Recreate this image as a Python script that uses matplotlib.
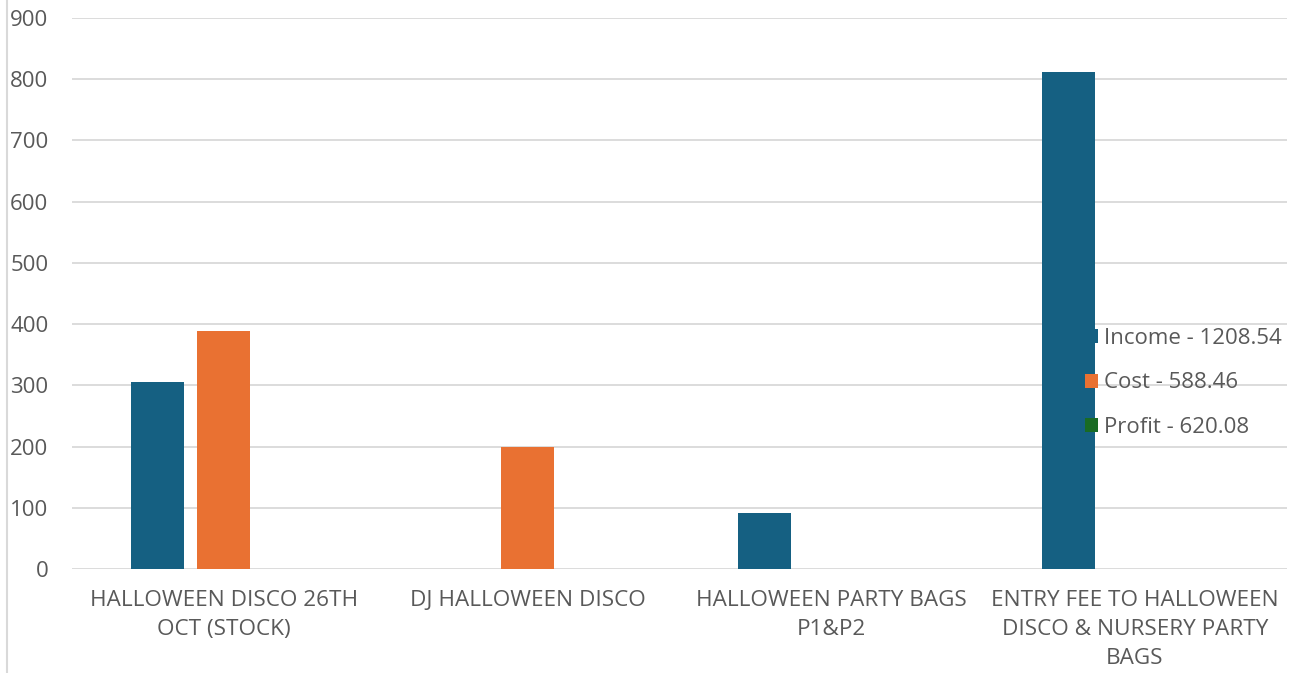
import matplotlib.pyplot as plt
import numpy as np

categories = ["HALLOWEEN DISCO 26TH\nOCT (STOCK)", "DJ HALLOWEEN DISCO",
              "HALLOWEEN PARTY BAGS\nP1&P2",
              "ENTRY FEE TO HALLOWEEN\nDISCO & NURSERY PARTY\nBAGS"]
income = [306.04, 0, 91.5, 811]
cost = [388.46, 200, 0, 0]
profit = [0, 0, 0, 0]
series_names = ["Income - 1208.54", "Cost - 588.46", "Profit - 620.08"]
colors = ["#156082", "#E97132", "#196B24"]

plt.rcParams['font.family'] = ['Open Sans', 'DejaVu Sans']

fig = plt.figure(figsize=(13.05, 6.73), dpi=100)
ax = fig.add_axes([0.0552, 0.1545, 0.9308, 0.8188])

x = np.arange(len(categories))
w = 0.1745
step = 0.22
for i, (vals, name, c) in enumerate(zip([income, cost, profit], series_names, colors)):
    ax.bar(x + (i - 1) * step, vals, width=w, color=c, label=name, zorder=3)

ax.set_xlim(-0.5, len(categories) - 0.5)
ax.set_ylim(0, 900)
ax.set_yticks(range(0, 901, 100))
ax.grid(axis='y', color='#D9D9D9', linewidth=1.3, zorder=0)
ax.set_xticks(x)
ax.set_xticklabels(categories, fontsize=16.2, color='#595959', linespacing=1.5)
ax.tick_params(axis='y', labelsize=16, labelcolor='#595959', length=0, pad=17)
ax.tick_params(axis='x', length=0, pad=15)
for s in ax.spines.values():
    s.set_visible(False)

# left border line of the chart area
fig.add_artist(plt.Line2D([0.0055, 0.0055], [0, 1], color='#D9D9D9', linewidth=1.5))

leg = ax.legend(loc='center left', bbox_to_anchor=(0.8314, 0.431),
                bbox_transform=fig.transFigure, frameon=False, fontsize=16,
                handlelength=0.6, handleheight=0.6, handletextpad=0.27,
                labelspacing=1.07, borderaxespad=0, borderpad=0)
for t in leg.get_texts():
    t.set_color('#595959')

fig.savefig("out.png", dpi=100)
